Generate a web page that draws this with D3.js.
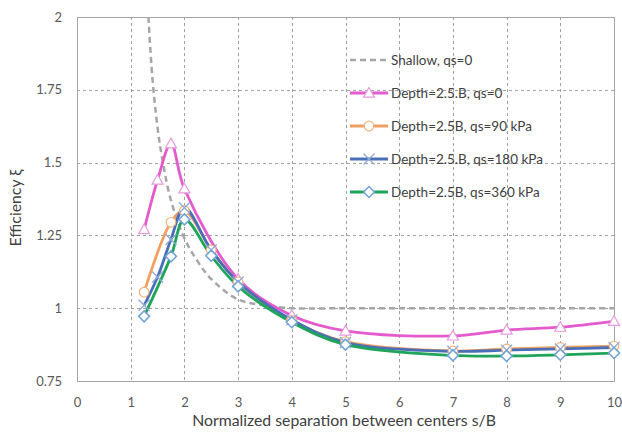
<!DOCTYPE html>
<html>
<head>
<meta charset="utf-8">
<script src="https://cdn.jsdelivr.net/npm/d3@7"></script>
<style>
  body { margin: 0; background: #fff; }
  svg { display: block; }
  text { font-family: Lato, "Open Sans", sans-serif; fill: #404040; }
</style>
</head>
<body>
<svg id="chart" width="622" height="440"></svg>
<script>
// Separation s/B and efficiency for each case
const shallowX = [1.33, 1.4, 1.5, 1.6, 1.75, 2, 2.25, 2.5, 3, 3.5, 4, 5, 6, 7, 8, 9, 10];
const shallowY = [2.0, 1.8, 1.62, 1.5, 1.37, 1.24, 1.16, 1.1, 1.03, 1.01, 1.0, 1.0, 1.0, 1.0, 1.0, 1.0, 1.0];

const deepQ0X = [1.25, 1.5, 1.75, 2, 3, 4, 5, 7, 8, 9, 10];
const deepQ0Y = [1.27, 1.44, 1.565, 1.41, 1.10, 0.975, 0.922, 0.905, 0.925, 0.935, 0.955];

const deepQ90X = [1.25, 1.75, 2, 2.5, 3, 4, 5, 7, 8, 9, 10];
const deepQ90Y = [1.055, 1.295, 1.335, 1.2, 1.09, 0.958, 0.885, 0.853, 0.86, 0.865, 0.87];

const deepQ180X = [1.25, 1.5, 1.75, 2, 2.5, 3, 4, 5, 7, 8, 9, 10];
const deepQ180Y = [1.01, 1.107, 1.236, 1.345, 1.2, 1.09, 0.96, 0.882, 0.852, 0.856, 0.86, 0.865];

const deepQ360X = [1.25, 1.75, 2, 2.5, 3, 4, 5, 7, 8, 9, 10];
const deepQ360Y = [0.972, 1.178, 1.305, 1.18, 1.075, 0.952, 0.875, 0.838, 0.836, 0.84, 0.846];

const xTicks = [0, 1, 2, 3, 4, 5, 6, 7, 8, 9, 10];
const yTicks = [0.75, 1, 1.25, 1.5, 1.75, 2];
const yTickLabels = ["0.75", "1", "1.25", "1.5", "1.75", "2"];

const series = [
  { name: "Shallow, qs=0", xs: shallowX, ys: shallowY, color: "#a6a6a6", dash: "6,4", marker: null, mk: null },
  { name: "Depth=2.5.B, qs=0", xs: deepQ0X, ys: deepQ0Y, color: "#e35bcd", dash: null, marker: "triangle", mk: "#e59be0" },
  { name: "Depth=2.5B, qs=90 kPa", xs: deepQ90X, ys: deepQ90Y, color: "#f0a062", dash: null, marker: "circle", mk: "#f2b27e" },
  { name: "Depth=2.5.B, qs=180 kPa", xs: deepQ180X, ys: deepQ180Y, color: "#4a6fb8", dash: null, marker: "cross", mk: "#8fa9d6" },
  { name: "Depth=2.5B, qs=360 kPa", xs: deepQ360X, ys: deepQ360Y, color: "#1fa55a", dash: null, marker: "diamond", mk: "#6fa3d4" }
];

const svg = d3.select("#chart");
const plotL = 77, plotR = 614, plotT = 17, plotB = 381;

const x = d3.scaleLinear().domain([0, 10]).range([plotL, plotR]);
const y = d3.scaleLinear().domain([0.75, 2]).range([plotB, plotT]);

// Dashed gridlines
const grid = svg.append("g").attr("stroke", "#a0a0a0").attr("stroke-width", 1).attr("stroke-dasharray", "3,3");
grid.selectAll("line.v").data(xTicks.slice(1, -1)).join("line")
  .attr("x1", d => Math.round(x(d)) + 0.5).attr("x2", d => Math.round(x(d)) + 0.5)
  .attr("y1", plotT).attr("y2", plotB);
grid.selectAll("line.h").data(yTicks.slice(1, -1)).join("line")
  .attr("x1", plotL).attr("x2", plotR)
  .attr("y1", d => Math.round(y(d)) + 0.5).attr("y2", d => Math.round(y(d)) + 0.5);

// Plot frame
svg.append("rect").attr("x", plotL + 0.5).attr("y", plotT + 0.5)
  .attr("width", plotR - plotL).attr("height", plotB - plotT)
  .attr("fill", "none").attr("stroke", "#a6a6a6").attr("stroke-width", 1);

// Tick labels (frame provides the axis lines)
const xAxis = svg.append("g").attr("transform", `translate(0,${plotB})`)
  .call(d3.axisBottom(x).tickValues(xTicks).tickSize(0).tickPadding(17).tickFormat(d3.format("d")));
xAxis.select(".domain").remove();
xAxis.selectAll("text").style("font-size", "13px").style("fill", "#595959");

const yAxis = svg.append("g").attr("transform", `translate(${plotL},0)`)
  .call(d3.axisLeft(y).tickValues(yTicks).tickSize(0).tickPadding(15).tickFormat((d, i) => yTickLabels[i]));
yAxis.select(".domain").remove();
yAxis.selectAll("text").style("font-size", "13px").style("fill", "#595959");

// Axis titles
svg.append("text").attr("x", 344).attr("y", 426)
  .attr("text-anchor", "middle").style("font-size", "15.8px")
  .text("Normalized separation between centers s/B");
svg.append("text").attr("transform", `translate(21,208) rotate(-90)`)
  .attr("text-anchor", "middle").style("font-size", "15.8px")
  .text("Efficiency ξ");

svg.append("clipPath").attr("id", "plotClip")
  .append("rect").attr("x", plotL).attr("y", plotT).attr("width", plotR - plotL).attr("height", plotB - plotT);

const line = d3.line().x(d => x(d[0])).y(d => y(d[1])).curve(d3.curveCatmullRom.alpha(0.5));

const plot = svg.append("g").attr("clip-path", "url(#plotClip)");
const markers = svg.append("g");

function drawMarker(g, type, cx, cy, stroke) {
  const s = 5.5;
  if (type === "triangle") {
    g.append("path").attr("d", `M${cx},${cy - s}L${cx + s},${cy + s * 0.75}L${cx - s},${cy + s * 0.75}Z`)
      .attr("fill", "#fff").attr("stroke", stroke).attr("stroke-width", 1.2);
  } else if (type === "circle") {
    g.append("circle").attr("cx", cx).attr("cy", cy).attr("r", 4.8)
      .attr("fill", "#fff").attr("stroke", stroke).attr("stroke-width", 1.2);
  } else if (type === "cross") {
    g.append("path").attr("d", `M${cx - s},${cy - s}L${cx + s},${cy + s}M${cx - s},${cy + s}L${cx + s},${cy - s}`)
      .attr("fill", "none").attr("stroke", stroke).attr("stroke-width", 1.3);
  } else if (type === "diamond") {
    g.append("path").attr("d", `M${cx},${cy - s}L${cx + s},${cy}L${cx},${cy + s}L${cx - s},${cy}Z`)
      .attr("fill", "#fff").attr("stroke", stroke).attr("stroke-width", 1.5);
  }
}

series.forEach(sr => {
  const pts = sr.xs.map((v, i) => [v, sr.ys[i]]);
  plot.append("path").datum(pts).attr("d", line)
    .attr("fill", "none").attr("stroke", sr.color)
    .attr("stroke-width", sr.dash ? 2.5 : 2.8)
    .attr("stroke-dasharray", sr.dash);
  if (sr.marker) {
    const mg = markers.append("g");
    pts.forEach(p => drawMarker(mg, sr.marker, x(p[0]), y(p[1]), sr.mk));
  }
});

// Legend
const legend = svg.append("g");
series.forEach((sr, i) => {
  const ly = 60 + i * 33;
  legend.append("line").attr("x1", 350).attr("x2", 388).attr("y1", ly).attr("y2", ly)
    .attr("stroke", sr.color).attr("stroke-width", sr.dash ? 2.5 : 2.8)
    .attr("stroke-dasharray", sr.dash);
  if (sr.marker) drawMarker(legend, sr.marker, 369, ly, sr.mk);
  legend.append("text").attr("x", 391).attr("y", ly + 5)
    .style("font-size", "13.5px").text(sr.name);
});
</script>
</body>
</html>
